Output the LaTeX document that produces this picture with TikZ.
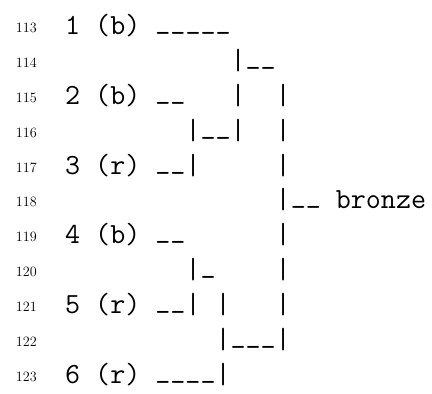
\documentclass[tikz,border=0pt]{standalone}
\usepackage{fontspec}
\newcommand\us{\raisebox{6pt}{\_}}
\begin{document}
\begin{tikzpicture}[x=1pt,y=1pt,
  codeline/.style={anchor=base west,inner sep=0pt,font=\fontsize{29.2}{34}\ttfamily},
  lineno/.style={anchor=base east,inner sep=0pt,font=\fontsize{14.2}{16}\selectfont}]
\useasboundingbox (0,0) rectangle (432,394);
\foreach \n [count=\k from 0] in {113,...,123}
  \node[lineno] (n\n) at (37,361.5-34.9*\k) {\n};
\node[codeline] (l113) at (65,359.5-34.9*0)  {1~(b)~\us\us\us\us\us};
\node[codeline] (l114) at (65,359.5-34.9*1)  {~~~~~~~~~~~|\us\us};
\node[codeline] (l115) at (65,359.5-34.9*2)  {2~(b)~\us\us~~~|~~|};
\node[codeline] (l116) at (65,359.5-34.9*3)  {~~~~~~~~|\us\us|~~|};
\node[codeline] (l117) at (65,359.5-34.9*4)  {3~(r)~\us\us|~~~~~|};
\node[codeline] (l118) at (65,359.5-34.9*5)  {~~~~~~~~~~~~~~|\us\us~bronze};
\node[codeline] (l119) at (65,359.5-34.9*6)  {4~(b)~\us\us~~~~~~|};
\node[codeline] (l120) at (65,359.5-34.9*7)  {~~~~~~~~|\us~~~~|};
\node[codeline] (l121) at (65,359.5-34.9*8)  {5~(r)~\us\us|~|~~~|};
\node[codeline] (l122) at (65,359.5-34.9*9)  {~~~~~~~~~~|\us\us\us|};
\node[codeline] (l123) at (65,359.5-34.9*10) {6~(r)~\us\us\us\us|};
\end{tikzpicture}
\end{document}
